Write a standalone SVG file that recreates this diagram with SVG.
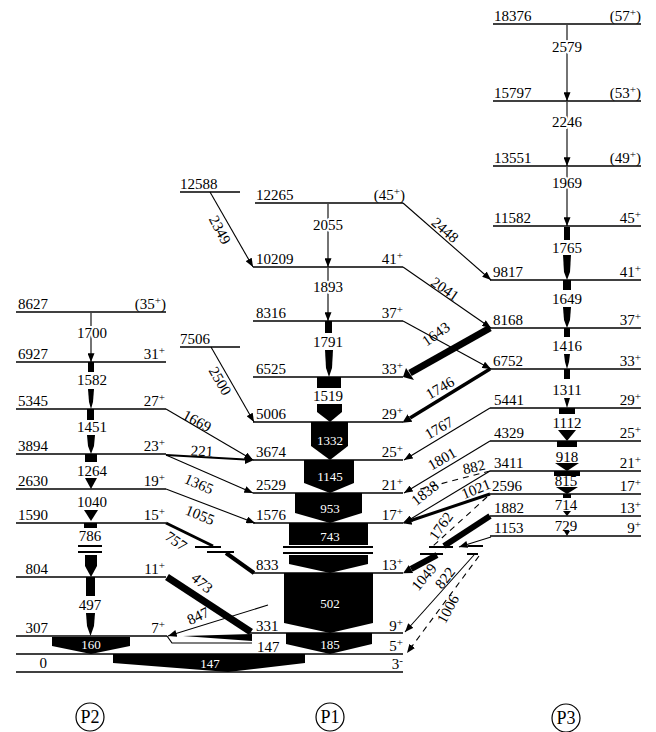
<svg xmlns="http://www.w3.org/2000/svg" width="656" height="732" viewBox="0 0 656 732">
<style>
.t{font-family:"Liberation Serif","Times New Roman",serif;font-size:15px;fill:#000}
.r{text-anchor:end}
.m{text-anchor:middle}
.s{font-size:11px}
.v{stroke:#fff;stroke-width:4;paint-order:stroke;stroke-linejoin:round}
.w{font-family:"Liberation Serif","Times New Roman",serif;font-size:13px;fill:#fff;text-anchor:middle}
.lv line{stroke:#000;stroke-width:1.5}
.a{stroke:#000;stroke-width:1.1;fill:none;marker-end:url(#ah)}
.d{stroke:#000;stroke-width:1.1;fill:none;stroke-dasharray:6 5}
.k{stroke:#000;fill:none}
.bar{stroke:#000;stroke-width:2}
.blk{fill:#000}
.cl{fill:none;stroke:#000;stroke-width:1.2}
.big{font-family:"Liberation Serif","Times New Roman",serif;font-size:18px;fill:#000;text-anchor:middle}
</style>
<defs>
<marker id="ah" viewBox="0 0 10 8" refX="10" refY="4" markerWidth="9" markerHeight="7" markerUnits="userSpaceOnUse" orient="auto"><path d="M0,0L10,4L0,8z"/></marker>
<marker id="hb" viewBox="0 0 10 10" refX="0" refY="5" markerWidth="9" markerHeight="11" markerUnits="userSpaceOnUse" orient="auto"><path d="M0,0L10,5L0,10z"/></marker>
</defs>
<rect width="656" height="732" fill="#fff"/>

<!-- P3 levels -->
<g id="p3-18376" class="lv"><line x1="493" y1="24" x2="641" y2="24"/><text class="t" x="494" y="21">18376</text><text class="t r" x="641" y="21">(57<tspan class="s" dy="-5">+</tspan><tspan dy="5">)</tspan></text></g>
<g id="p3-15797" class="lv"><line x1="493" y1="101" x2="641" y2="101"/><text class="t" x="494" y="98">15797</text><text class="t r" x="641" y="98">(53<tspan class="s" dy="-5">+</tspan><tspan dy="5">)</tspan></text></g>
<g id="p3-13551" class="lv"><line x1="493" y1="166" x2="641" y2="166"/><text class="t" x="494" y="163">13551</text><text class="t r" x="641" y="163">(49<tspan class="s" dy="-5">+</tspan><tspan dy="5">)</tspan></text></g>
<g id="p3-11582" class="lv"><line x1="493" y1="226" x2="641" y2="226"/><text class="t" x="494" y="223">11582</text><text class="t r" x="641" y="223">45<tspan class="s" dy="-5">+</tspan></text></g>
<g id="p3-9817" class="lv"><line x1="490" y1="280" x2="641" y2="280"/><text class="t" x="493" y="277">9817</text><text class="t r" x="641" y="277">41<tspan class="s" dy="-5">+</tspan></text></g>
<g id="p3-8168" class="lv"><line x1="490" y1="328" x2="641" y2="328"/><text class="t" x="493" y="325">8168</text><text class="t r" x="641" y="325">37<tspan class="s" dy="-5">+</tspan></text></g>
<g id="p3-6752" class="lv"><line x1="490" y1="369" x2="641" y2="369"/><text class="t" x="493" y="366">6752</text><text class="t r" x="641" y="366">33<tspan class="s" dy="-5">+</tspan></text></g>
<g id="p3-5441" class="lv"><line x1="490" y1="408" x2="641" y2="408"/><text class="t" x="494" y="405">5441</text><text class="t r" x="641" y="405">29<tspan class="s" dy="-5">+</tspan></text></g>
<g id="p3-4329" class="lv"><line x1="490" y1="441" x2="641" y2="441"/><text class="t" x="494" y="438">4329</text><text class="t r" x="641" y="438">25<tspan class="s" dy="-5">+</tspan></text></g>
<g id="p3-3411" class="lv"><line x1="490" y1="471" x2="641" y2="471"/><text class="t" x="494" y="468">3411</text><text class="t r" x="641" y="468">21<tspan class="s" dy="-5">+</tspan></text></g>
<g id="p3-2596" class="lv"><line x1="490" y1="494" x2="641" y2="494"/><text class="t" x="492" y="491">2596</text><text class="t r" x="641" y="491">17<tspan class="s" dy="-5">+</tspan></text></g>
<g id="p3-1882" class="lv"><line x1="490" y1="516" x2="641" y2="516"/><text class="t" x="494" y="513">1882</text><text class="t r" x="641" y="513">13<tspan class="s" dy="-5">+</tspan></text></g>
<g id="p3-1153" class="lv"><line x1="490" y1="536" x2="641" y2="536"/><text class="t" x="494" y="533">1153</text><text class="t r" x="641" y="533">9<tspan class="s" dy="-5">+</tspan></text></g>

<!-- P1 levels -->
<g id="p1-12588" class="lv"><line x1="180" y1="192" x2="240" y2="192"/><text class="t" x="180" y="189">12588</text></g>
<g id="p1-7506" class="lv"><line x1="180" y1="347" x2="240" y2="347"/><text class="t" x="180" y="344">7506</text></g>
<g id="p1-12265" class="lv"><line x1="255" y1="203" x2="403" y2="203"/><text class="t" x="256" y="200">12265</text><text class="t r" x="405" y="200">(45<tspan class="s" dy="-5">+</tspan><tspan dy="5">)</tspan></text></g>
<g id="p1-10209" class="lv"><line x1="253" y1="267" x2="403" y2="267"/><text class="t" x="256" y="264">10209</text><text class="t r" x="403" y="264">41<tspan class="s" dy="-5">+</tspan></text></g>
<g id="p1-8316" class="lv"><line x1="253" y1="321" x2="403" y2="321"/><text class="t" x="256" y="318">8316</text><text class="t r" x="403" y="318">37<tspan class="s" dy="-5">+</tspan></text></g>
<g id="p1-6525" class="lv"><line x1="253" y1="377" x2="403" y2="377"/><text class="t" x="256" y="374">6525</text><text class="t r" x="403" y="374">33<tspan class="s" dy="-5">+</tspan></text></g>
<g id="p1-5006" class="lv"><line x1="253" y1="422" x2="403" y2="422"/><text class="t" x="256" y="419">5006</text><text class="t r" x="403" y="419">29<tspan class="s" dy="-5">+</tspan></text></g>
<g id="p1-3674" class="lv"><line x1="253" y1="460" x2="403" y2="460"/><text class="t" x="256" y="457">3674</text><text class="t r" x="403" y="457">25<tspan class="s" dy="-5">+</tspan></text></g>
<g id="p1-2529" class="lv"><line x1="253" y1="493" x2="403" y2="493"/><text class="t" x="256" y="490">2529</text><text class="t r" x="403" y="490">21<tspan class="s" dy="-5">+</tspan></text></g>
<g id="p1-1576" class="lv"><line x1="253" y1="523" x2="403" y2="523"/><text class="t" x="256" y="520">1576</text><text class="t r" x="403" y="520">17<tspan class="s" dy="-5">+</tspan></text></g>
<g id="p1-833" class="lv"><line x1="253" y1="573" x2="403" y2="573"/><text class="t" x="256" y="570">833</text><text class="t r" x="403" y="570">13<tspan class="s" dy="-5">+</tspan></text></g>
<g id="p1-331" class="lv"><line x1="250" y1="633" x2="403" y2="633"/><text class="t" x="256" y="631">331</text><text class="t r" x="403" y="631">9<tspan class="s" dy="-5">+</tspan></text></g>
<g id="p1-147" class="lv"><line x1="16" y1="654" x2="403" y2="654"/><text class="t" x="257" y="652">147</text><text class="t r" x="403" y="651">5<tspan class="s" dy="-5">+</tspan></text></g>
<g id="p1-0" class="lv"><line x1="16" y1="672" x2="403" y2="672"/><text class="t r" x="47" y="668">0</text><text class="t r" x="403" y="669">3<tspan class="s" dy="-5">-</tspan></text></g>

<!-- P2 levels -->
<g id="p2-8627" class="lv"><line x1="16" y1="312" x2="166" y2="312"/><text class="t r" x="48" y="309">8627</text><text class="t r" x="166" y="309">(35<tspan class="s" dy="-5">+</tspan><tspan dy="5">)</tspan></text></g>
<g id="p2-6927" class="lv"><line x1="16" y1="362" x2="166" y2="362"/><text class="t r" x="48" y="359">6927</text><text class="t r" x="165" y="359">31<tspan class="s" dy="-5">+</tspan></text></g>
<g id="p2-5345" class="lv"><line x1="16" y1="409" x2="166" y2="409"/><text class="t r" x="48" y="406">5345</text><text class="t r" x="165" y="406">27<tspan class="s" dy="-5">+</tspan></text></g>
<g id="p2-3894" class="lv"><line x1="16" y1="454" x2="166" y2="454"/><text class="t r" x="48" y="451">3894</text><text class="t r" x="165" y="451">23<tspan class="s" dy="-5">+</tspan></text></g>
<g id="p2-2630" class="lv"><line x1="16" y1="489" x2="166" y2="489"/><text class="t r" x="48" y="486">2630</text><text class="t r" x="165" y="486">19<tspan class="s" dy="-5">+</tspan></text></g>
<g id="p2-1590" class="lv"><line x1="16" y1="523" x2="166" y2="523"/><text class="t r" x="48" y="520">1590</text><text class="t r" x="165" y="520">15<tspan class="s" dy="-5">+</tspan></text></g>
<g id="p2-804" class="lv"><line x1="16" y1="577" x2="166" y2="577"/><text class="t r" x="48" y="574">804</text><text class="t r" x="165" y="574">11<tspan class="s" dy="-5">+</tspan></text></g>
<g id="p2-307" class="lv"><line x1="16" y1="636" x2="167" y2="636"/><text class="t r" x="48" y="633">307</text><text class="t r" x="165" y="633">7<tspan class="s" dy="-5">+</tspan></text></g>

<!-- connectors -->
<g id="connectors">
<!-- P3 band -->
<line class="a" x1="567" y1="25" x2="567" y2="101"/>
<text class="t m v" x="567" y="52">2579</text>
<line class="a" x1="567" y1="102" x2="567" y2="166"/>
<text class="t m v" x="567" y="127">2246</text>
<line class="a" x1="567" y1="167" x2="567" y2="226"/>
<text class="t m v" x="567" y="188">1969</text>
<rect class="blk" x="564" y="227" width="6" height="13"/>
<text class="t m" x="567" y="253">1765</text>
<polygon class="blk" points="563,255 571,255 570,272 567,280 564,272"/>
<rect class="blk" x="563" y="280" width="8" height="10"/>
<text class="t m" x="567" y="304">1649</text>
<polygon class="blk" points="563,307 571,307 570,320 567,328 564,320"/>
<rect class="blk" x="564" y="328" width="6" height="9"/>
<text class="t m" x="567" y="351">1416</text>
<polygon class="blk" points="564,354 570,354 569,362 567,369 565,362"/>
<rect class="blk" x="564" y="369" width="6" height="10"/>
<text class="t m" x="567" y="395">1311</text>
<polygon class="blk" points="564,398 570,398 567,408"/>
<rect class="blk" x="559" y="408" width="16" height="6"/>
<text class="t m" x="567" y="428">1112</text>
<polygon class="blk" points="558,430 576,430 567,441"/>
<rect class="blk" x="557" y="441" width="20" height="6"/>
<text class="t m" x="567" y="462">918</text>
<polygon class="blk" points="555,463 579,463 567,471"/>
<rect class="blk" x="554" y="471" width="26" height="5"/>
<text class="t m" x="566" y="486">815</text>
<polygon class="blk" points="556,487 578,487 567,494"/>
<rect class="blk" x="563" y="494" width="8" height="4"/>
<text class="t m" x="566" y="510">714</text>
<polygon class="blk" points="563,511 571,511 567,516"/>
<text class="t m" x="566" y="531">729</text>
<polygon class="blk" points="564,531 570,531 567,536"/>

<!-- P1 band -->
<line class="a" x1="328" y1="204" x2="328" y2="267"/>
<text class="t m v" x="328" y="230">2055</text>
<line class="a" x1="328" y1="268" x2="328" y2="321"/>
<text class="t m v" x="328" y="292">1893</text>
<rect class="blk" x="325" y="321" width="7" height="12"/>
<text class="t m" x="328" y="347">1791</text>
<polygon class="blk" points="325,350 333,350 332,368 329,377 326,368"/>
<rect class="blk" x="317" y="377" width="24" height="11"/>
<text class="t m" x="328" y="401">1519</text>
<polygon class="blk" points="317,404 342,404 342,412 330,422 317,412"/>
<polygon class="blk" points="311,422 348,422 348,446 330,460 311,446"/>
<text class="w" x="330" y="445">1332</text>
<polygon class="blk" points="304,460 354,460 354,483 330,493 304,483"/>
<text class="w" x="330" y="481">1145</text>
<polygon class="blk" points="295,493 362,493 362,513 330,523 295,513"/>
<text class="w" x="330" y="513">953</text>
<polygon class="blk" points="289,523 368,523 368,545 289,545"/>
<text class="w" x="330" y="541">743</text>
<line class="bar" x1="283" y1="547" x2="373" y2="547"/>
<line class="bar" x1="283" y1="553" x2="373" y2="553"/>
<polygon class="blk" points="289,555 368,555 368,564 330,573 289,564"/>
<polygon class="blk" points="284,573 373,573 373,623 330,633 284,623"/>
<text class="w" x="330" y="608">502</text>
<polygon class="blk" points="286,633 372,633 372,644 330,654 286,644"/>
<text class="w" x="330" y="649">185</text>
<polygon class="blk" points="113,654 305,654 305,663 228,672 113,663"/>
<text class="w" x="210" y="668">147</text>

<!-- P2 band -->
<line class="a" x1="91" y1="313" x2="91" y2="362"/>
<text class="t m v" x="92" y="338">1700</text>
<rect class="blk" x="88" y="362" width="6" height="10"/>
<text class="t m" x="92" y="385">1582</text>
<polygon class="blk" points="88,389 94,389 93,402 91,409 89,402"/>
<rect class="blk" x="87" y="409" width="7" height="11"/>
<text class="t m" x="92" y="432">1451</text>
<polygon class="blk" points="87,435 95,435 94,446 91,454 88,446"/>
<rect class="blk" x="85" y="454" width="12" height="8"/>
<text class="t m" x="92" y="476">1264</text>
<polygon class="blk" points="85,478 97,478 91,489"/>
<text class="t m" x="92" y="507">1040</text>
<polygon class="blk" points="84,510 98,510 91,521"/>
<rect class="blk" x="84" y="523" width="13" height="5"/>
<text class="t m" x="90" y="541">786</text>
<line class="bar" x1="78" y1="546" x2="102" y2="546"/>
<line class="bar" x1="78" y1="552" x2="102" y2="552"/>
<polygon class="blk" points="85,555 97,555 97,566 91,577 85,566"/>
<rect class="blk" x="86" y="577" width="9" height="19"/>
<text class="t m" x="90" y="610">497</text>
<polygon class="blk" points="86,613 95,613 94,626 90.5,636 87,626"/>
<polygon class="blk" points="52,637 130,637 130,646 91,654 52,646"/>
<text class="w" x="91" y="649">160</text>

<!-- left cross transitions -->
<line class="a" x1="210" y1="192" x2="253" y2="267"/>
<text class="t m" transform="translate(220,230) rotate(62)" y="5">2349</text>
<line class="a" x1="211" y1="347" x2="254" y2="422"/>
<text class="t m" transform="translate(220,381) rotate(60)" y="5">2500</text>
<line class="a" x1="166" y1="409" x2="253" y2="460"/>
<text class="t m" transform="translate(197,421) rotate(28)" y="5">1669</text>
<line class="k" stroke-width="2" x1="166" y1="455" x2="245" y2="459.5" marker-end="url(#hb)"/>
<text class="t m" transform="translate(202,451) rotate(3)" y="5">221</text>
<line class="a" x1="166" y1="455" x2="253" y2="493"/>
<text class="t m" transform="translate(199,484) rotate(24)" y="5">1365</text>
<line class="a" x1="166" y1="489" x2="255" y2="523"/>
<text class="t m" transform="translate(200,515) rotate(22)" y="5">1055</text>
<line class="k" stroke-width="3" x1="166" y1="523" x2="213" y2="546"/>
<line class="bar" x1="195" y1="547" x2="221" y2="547"/>
<line class="bar" x1="207" y1="552" x2="234" y2="552"/>
<line class="k" stroke-width="4" x1="226" y1="553" x2="254" y2="573"/>
<text class="t m" transform="translate(176,541) rotate(35)" y="5">757</text>
<line class="k" stroke-width="7" x1="167" y1="577" x2="251" y2="632"/>
<text class="t m" transform="translate(202,583) rotate(40)" y="5">473</text>
<line class="a" x1="268" y1="605" x2="168" y2="636"/>
<text class="t m" transform="translate(198,616) rotate(-25)" y="5">847</text>
<polyline class="k" stroke-width="1.2" points="167,636 172,643 252,643"/>
<polygon class="blk" points="183,636 252,634 252,641"/>

<!-- right cross transitions -->
<line class="a" x1="403" y1="203" x2="491" y2="280"/>
<text class="t m" transform="translate(445,230) rotate(41)" y="5">2448</text>
<line class="a" x1="403" y1="267" x2="491" y2="328"/>
<text class="t m" transform="translate(445,289) rotate(35)" y="5">2041</text>
<line class="a" x1="403" y1="321" x2="491" y2="369"/>
<line class="k" stroke-width="7" x1="490" y1="328" x2="410" y2="373"/>
<polygon class="blk" points="403,377 406,368 414,380"/>
<text class="t m" transform="translate(436,334) rotate(-35)" y="5">1643</text>
<line class="k" stroke-width="3.5" x1="490" y1="369" x2="410" y2="418" marker-end="url(#hb)"/>
<text class="t m" transform="translate(440,388) rotate(-30)" y="5">1746</text>
<line class="a" x1="490" y1="408" x2="404" y2="460"/>
<text class="t m" transform="translate(439,428) rotate(-30)" y="5">1767</text>
<line class="a" x1="490" y1="441" x2="404" y2="493"/>
<text class="t m" transform="translate(442,459) rotate(-30)" y="5">1801</text>
<line class="d" x1="490" y1="471" x2="417" y2="490"/>
<text class="t m" transform="translate(474,467) rotate(-12)" y="5">882</text>
<line class="a" x1="490" y1="471" x2="404" y2="523"/>
<text class="t m" transform="translate(425,493) rotate(-38)" y="5">1838</text>
<line class="k" stroke-width="3" x1="490" y1="494" x2="411" y2="520.5" marker-end="url(#hb)"/>
<text class="t m" transform="translate(476,489) rotate(-22)" y="5">1021</text>
<line class="d" x1="487" y1="497" x2="433" y2="546"/>
<text class="t m" transform="translate(441,526) rotate(-55)" y="5">1762</text>
<line class="k" stroke-width="6" x1="490" y1="516" x2="444" y2="546"/>
<line class="bar" x1="429" y1="547" x2="453" y2="547"/>
<line class="bar" x1="468" y1="546" x2="483" y2="546"/>
<line class="bar" x1="420" y1="554" x2="443" y2="554"/>
<line class="bar" x1="467" y1="554" x2="478" y2="554"/>
<line class="k" stroke-width="6" x1="437" y1="555" x2="411" y2="569" marker-end="url(#hb)"/>
<text class="t m" transform="translate(424,577) rotate(-50)" y="5">1049</text>
<line class="a" x1="491" y1="537" x2="459" y2="547"/>
<line class="a" stroke-width="2.5" x1="474" y1="555" x2="405" y2="632"/>
<text class="t m" transform="translate(445,578) rotate(-52)" y="5">822</text>
<line class="d" x1="479" y1="556" x2="407" y2="653" marker-end="url(#ah)"/>
<text class="t m" transform="translate(448,609) rotate(-62)" y="5">1006</text>
</g>

<!-- band labels -->
<g id="label-p2"><ellipse class="cl" cx="90" cy="717" rx="14" ry="14"/><text class="big" x="90" y="723">P2</text></g>
<g id="label-p1"><ellipse class="cl" cx="330" cy="717" rx="14" ry="14"/><text class="big" x="330" y="723">P1</text></g>
<g id="label-p3"><ellipse class="cl" cx="566" cy="718" rx="14" ry="14"/><text class="big" x="566" y="724">P3</text></g>
</svg>
